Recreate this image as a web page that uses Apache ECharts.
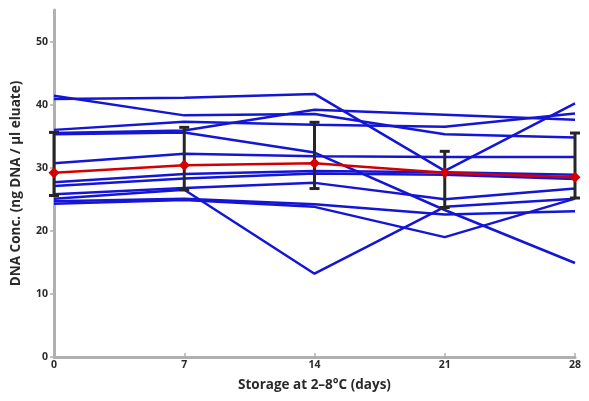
<!DOCTYPE html>
<html>
<head>
<meta charset="utf-8">
<script src="https://cdn.jsdelivr.net/npm/echarts@6/dist/echarts.min.js"></script>
<style>
html,body{margin:0;padding:0;background:#fff;}
#c{width:589px;height:401px;}
</style>
</head>
<body>
<div id="c"></div>
<script>
var days = [0, 7, 14, 21, 28];
var xTicks = [0, 7, 14, 21, 28];
var yTicks = [0, 10, 20, 30, 40, 50];

var lineA = [40.9, 41.1, 41.7, 29.5, 40.2];
var lineB = [41.4, 38.3, 38.5, 35.3, 34.8];
var lineC = [35.5, 35.9, 39.2, 38.4, 37.6];
var lineD = [36.0, 37.3, 36.8, 36.5, 38.6];
var lineE = [30.7, 32.2, 31.8, 31.7, 31.7];
var lineF = [35.3, 35.6, 32.4, 23.3, 14.9];
var lineG = [27.7, 29.0, 29.5, 29.3, 28.9];
var lineH = [27.1, 28.3, 29.1, 28.9, 28.2];
var lineI = [25.8, 26.8, 27.6, 25.0, 26.7];
var lineJ = [25.1, 26.5, 13.2, 23.8, 25.1];
var lineK = [24.7, 25.1, 24.2, 22.6, 23.1];
var lineL = [24.3, 24.9, 23.8, 19.0, 25.1];

var meanLine = [29.2, 30.4, 30.7, 29.2, 28.5];
var errLow  = [25.6, 26.5, 26.7, 23.7, 25.2];
var errHigh = [35.6, 36.4, 37.2, 32.6, 35.5];

var blueLines = [lineA, lineB, lineC, lineD, lineE, lineF, lineG, lineH, lineI, lineJ, lineK, lineL];

function pairs(vals) { return days.map(function (d, i) { return [d, vals[i]]; }); }

var txt = '#2a2a2a';
var font = "'Open Sans', 'DejaVu Sans', sans-serif";

var series = blueLines.map(function (vals) {
  return {
    type: 'line', data: pairs(vals), symbol: 'none', silent: true,
    lineStyle: { color: '#1515d6', width: 2.5 }, z: 2
  };
});

series.push({
  type: 'custom', z: 3, silent: true,
  data: days.map(function (d, i) { return [d, errLow[i], errHigh[i]]; }),
  renderItem: function (params, api) {
    var lo = api.coord([api.value(0), api.value(1)]);
    var hi = api.coord([api.value(0), api.value(2)]);
    var w = 5;
    var st = { stroke: '#262626', lineWidth: 3 };
    return {
      type: 'group', children: [
        { type: 'line', shape: { x1: lo[0], y1: lo[1], x2: hi[0], y2: hi[1] }, style: st },
        { type: 'line', shape: { x1: lo[0] - w, y1: lo[1], x2: lo[0] + w, y2: lo[1] }, style: st },
        { type: 'line', shape: { x1: hi[0] - w, y1: hi[1], x2: hi[0] + w, y2: hi[1] }, style: st }
      ]
    };
  }
});

series.push({
  type: 'line', data: pairs(meanLine), z: 4, silent: true,
  symbol: 'diamond', symbolSize: 11,
  itemStyle: { color: '#d40000' },
  lineStyle: { color: '#d40000', width: 2.5 }
});

var chart = echarts.init(document.getElementById('c'), null, { renderer: 'canvas' });
chart.setOption({
  animation: false,
  backgroundColor: '#fff',
  grid: { left: 54, right: 14, top: 10, bottom: 44, containLabel: false },
  xAxis: {
    type: 'value', min: 0, max: 28, interval: 7,
    name: 'Storage at 2\u20138\u00b0C (days)', nameLocation: 'middle', nameGap: 21,
    nameTextStyle: { color: txt, fontSize: 13.5, fontWeight: 'bold', fontFamily: font },
    axisLine: { lineStyle: { color: '#b0b0b0', width: 3 } },
    axisTick: { inside: true, length: 4, lineStyle: { color: '#b0b0b0', width: 1.5 }, customValues: xTicks },
    axisLabel: { color: txt, fontSize: 10.5, fontWeight: 'bold', fontFamily: font, margin: 3, customValues: xTicks },
    splitLine: { show: false }
  },
  yAxis: {
    type: 'value', min: 0, max: 55,
    name: 'DNA Conc. (ng DNA / \u00b5l eluate)', nameLocation: 'middle', nameGap: 31,
    nameTextStyle: { color: txt, fontSize: 13.5, fontWeight: 'bold', fontFamily: font },
    axisLine: { show: true, lineStyle: { color: '#b0b0b0', width: 3 } },
    axisTick: { show: true, length: 4, lineStyle: { color: '#b0b0b0', width: 1.5 }, customValues: yTicks },
    axisLabel: { color: txt, fontSize: 10.5, fontWeight: 'bold', fontFamily: font, margin: 6, customValues: yTicks },
    splitLine: { show: false }
  },
  series: series
});
</script>
</body>
</html>
